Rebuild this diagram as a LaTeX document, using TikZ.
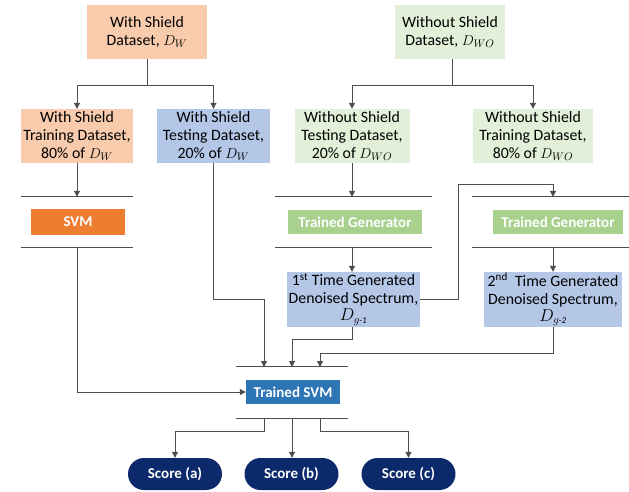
\documentclass[tikz,border=0pt]{standalone}
\usepackage{fontspec}
\setmainfont{Carlito}
\usetikzlibrary{arrows.meta,calc}
\definecolor{lorange}{HTML}{F8CBAD}
\definecolor{lblue}{HTML}{B4C7E7}
\definecolor{lgreen}{HTML}{E2F0D9}
\definecolor{dorange}{HTML}{ED7D31}
\definecolor{dgreen}{HTML}{A9D18E}
\definecolor{dblue}{HTML}{2E75B6}
\definecolor{navy}{HTML}{0C2A6B}
\definecolor{linec}{HTML}{4D4D4D}
\newcommand{\gsub}[1]{{\fontsize{16}{18}\selectfont$D_{g\mbox{\fontsize{9}{10}\selectfont\itshape -#1}}$}}
\begin{document}
\begin{tikzpicture}[x=1pt,y=-1pt,
  box/.style={minimum height=54, inner sep=1pt, align=center, font=\fontsize{15.8}{18}\selectfont},
  pbox/.style={inner sep=1pt, align=center, text=white, font=\fontsize{15}{17}\selectfont\bfseries},
  grp/.style={minimum height=50, inner sep=0pt},
  score/.style={fill=navy, rounded corners=16, minimum width=94, minimum height=32, inner sep=1pt, text=white, font=\fontsize{15}{17}\selectfont\bfseries},
  ln/.style={draw=linec, line width=1pt},
  arr/.style={ln, -{Triangle[length=6pt,width=6pt]}}]
\useasboundingbox (0,0) rectangle (629,491);
% top
\node[box, fill=lorange, minimum width=120] (wsd) at (147,32) {With Shield\\Dataset, $D_W$};
\node[box, fill=lgreen, minimum width=110] (wod) at (450,32) {Without Shield\\Dataset, $D_{WO}$};
% row 2
\node[box, fill=lorange, minimum width=112] (wstr) at (77,136) {With Shield\\Training Dataset,\\80\% of $D_W$};
\node[box, fill=lblue, minimum width=113] (wste) at (213.5,136) {With Shield\\Testing Dataset,\\20\% of $D_W$};
\node[box, fill=lgreen, minimum width=115] (wote) at (352,136) {Without Shield\\Testing Dataset,\\20\% of $D_{WO}$};
\node[box, fill=lgreen, minimum width=120] (wotr) at (533,136) {Without Shield\\Training Dataset,\\80\% of $D_{WO}$};
% process groups
\node[grp, minimum width=112] (svmg) at (77,222) {};
\node[grp, minimum width=157] (g1g) at (353.5,222) {};
\node[grp, minimum width=157] (g2g) at (550.5,222) {};
\node[grp, minimum width=112, minimum height=51] (tsvmg) at (292,392.5) {};
\foreach \g in {svmg,g1g,g2g,tsvmg}{
  \draw[ln] (\g.north west) -- (\g.north east);
  \draw[ln] (\g.south west) -- (\g.south east);
}
\node[pbox, fill=dorange, minimum width=94, minimum height=26] (svm) at (78,222) {SVM};
\node[pbox, fill=dgreen, minimum width=134, minimum height=24] (tg1) at (355,222) {Trained Generator};
\node[pbox, fill=dgreen, minimum width=130, minimum height=24] (tg2) at (558,222) {Trained Generator};
\node[pbox, fill=dblue, minimum width=94, minimum height=24] (tsvm) at (293,392) {Trained SVM};
% generated
\node[box, fill=lblue, minimum width=133, minimum height=55] (gen1) at (353.5,299.5) {1\textsuperscript{st} Time Generated\\Denoised Spectrum,\\[-1pt]\gsub{1}};
\node[box, fill=lblue, minimum width=138, minimum height=55] (gen2) at (553,299.5) {2\textsuperscript{nd}\ \ Time Generated\\Denoised Spectrum,\\[-1pt]\gsub{2}};
% scores
\node[score] (sa) at (175,474) {Score (a)};
\node[score] (sb) at (291.5,474) {Score (b)};
\node[score] (sc) at (408.5,474) {Score (c)};
% coordinates
\coordinate (in1) at (264,367);
\coordinate (in2) at (292,367);
\coordinate (in3) at (320,367);
\coordinate (out1) at (264,418);
\coordinate (out2) at (292,418);
\coordinate (out3) at (320,418);
\coordinate (loop) at (458,184);
% connectors
\draw[arr] (wsd.south) -- ++(0,26) -| (wstr.north);
\draw[arr] (wsd.south) -- ++(0,26) -| (wste.north);
\draw[arr] ($(wod.south)+(2,0)$) -- ++(0,26) -| (wote.north);
\draw[arr] ($(wod.south)+(2,0)$) -- ++(0,26) -| (wotr.north);
\draw[arr] (wstr.south) -- (svmg.north);
\draw[arr] (wote.north |- wote.south) -- (wote.north |- g1g.north);
\draw[arr] (wote.north |- g1g.south) -- (wote.north |- gen1.north);
\draw[arr] (gen1.east) -| (loop) -| (gen2.north |- g2g.north);
\draw[arr] (gen2.north |- g2g.south) -- (gen2.north);
\draw[arr] (svmg.south) |- (tsvm.west);
\draw[arr] (wste.south) -- ++(0,136) -| (in1);
\draw[arr] (wote.north |- gen1.south) -- ++(0,12) -| (in2);
\draw[arr] (gen2.south) -- ++(0,26) -| (in3);
\draw[arr] (out1) -- ++(0,13) -| (sa.north);
\draw[arr] (out2) -- (out2 |- sb.north);
\draw[arr] (out3) -- ++(0,13) -| (sc.north);
\end{tikzpicture}
\end{document}
